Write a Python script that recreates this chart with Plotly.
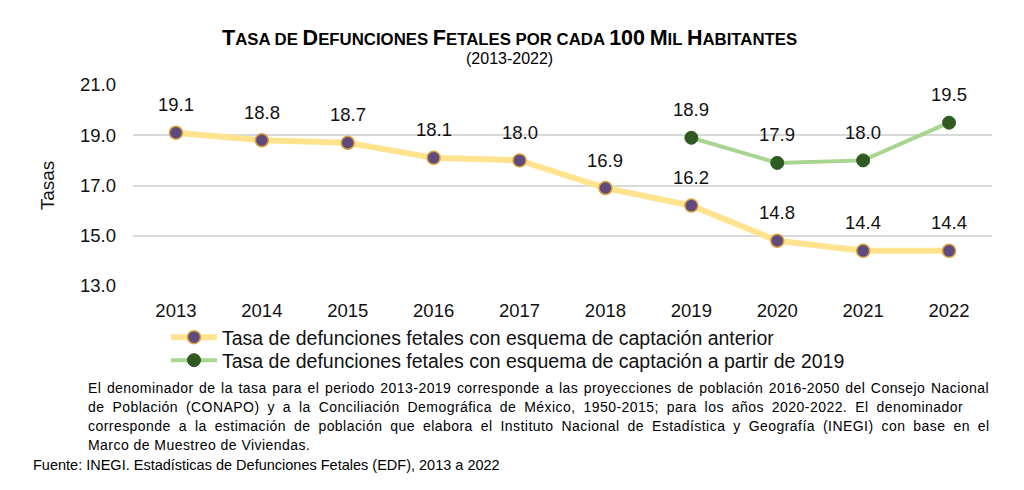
import plotly.graph_objects as go

years = ["2013", "2014", "2015", "2016", "2017", "2018", "2019", "2020", "2021", "2022"]
anterior = [19.1, 18.8, 18.7, 18.1, 18.0, 16.9, 16.2, 14.8, 14.4, 14.4]
nuevo_years = ["2019", "2020", "2021", "2022"]
nuevo = [18.9, 17.9, 18.0, 19.5]
y_ticks = [13.0, 15.0, 17.0, 19.0, 21.0]

name_a = "Tasa de defunciones fetales con esquema de captación anterior"
name_b = "Tasa de defunciones fetales con esquema de captación a partir de 2019"

footnote_lines = [
    "El denominador de la tasa para el periodo 2013-2019 corresponde a las proyecciones de población 2016-2050 del Consejo Nacional",
    "de Población (CONAPO) y a la Conciliación Demográfica de México, 1950-2015; para los años 2020-2022. El denominador",
    "corresponde a la estimación de población que elabora el Instituto Nacional de Estadística y Geografía (INEGI) con base en el",
    "Marco de Muestreo de Viviendas.",
]
source_text = "Fuente: INEGI. Estadísticas de Defunciones Fetales (EDF), 2013 a 2022"

FONT = "Liberation Sans, Arial, sans-serif"

# page has an 8px body margin: screen coords = figure coords + 8
OFF = 8
W, H = 1024 - 2 * OFF, 490 - 2 * OFF
SL, ST = 133, 85            # plot area top-left in screen px
PW, PH = 859, 201
L, T = SL - OFF, ST - OFF
R, B = W - L - PW, H - T - PH


def px(xs):
    return (xs - SL) / PW


def py(ys):
    return (ST + PH - ys) / PH


fig = go.Figure()
fig.add_trace(go.Scatter(
    x=years, y=anterior, name=name_a, mode="lines+markers", legend="legend",
    line=dict(color="#FFE38F", width=6),
    marker=dict(size=13, color="#5E4A7E", line=dict(color="#D9A13A", width=1.5)),
))
fig.add_trace(go.Scatter(
    x=nuevo_years, y=nuevo, name=name_b, mode="lines+markers", legend="legend2",
    line=dict(color="#A8D58F", width=4),
    marker=dict(size=13, color="#2F5A22", line=dict(color="#2F5A22", width=1)),
))

annotations = []
for xv, yv in zip(years, anterior):
    annotations.append(dict(x=years.index(xv), y=yv, text=f"{yv:.1f}", showarrow=False, yshift=28,
                            font=dict(family=FONT, size=18.5, color="#111")))
for xv, yv in zip(nuevo_years, nuevo):
    annotations.append(dict(x=years.index(xv), y=yv, text=f"{yv:.1f}", showarrow=False, yshift=28,
                            font=dict(family=FONT, size=18.5, color="#111")))

big = "font-size:21.5px"
title_html = (f"<b><span style='{big}'>T</span>ASA DE <span style='{big}'>D</span>EFUNCIONES "
              f"<span style='{big}'>F</span>ETALES POR CADA <span style='{big}'>100</span> "
              f"<span style='{big}'>M</span>IL <span style='{big}'>H</span>ABITANTES</b>")
annotations.append(dict(xref="paper", yref="paper", x=px(509), xanchor="center", y=py(38), yanchor="middle",
                        text=title_html, showarrow=False, font=dict(family=FONT, size=16.8, color="#000")))
annotations.append(dict(xref="paper", yref="paper", x=px(509), xanchor="center", y=py(59), yanchor="middle",
                        text="(2013-2022)", showarrow=False, font=dict(family=FONT, size=16, color="#000")))

word_sp = [1.2, 3.6, 3.6, 0]
for i, line in enumerate(footnote_lines):
    annotations.append(dict(xref="paper", yref="paper", x=px(86), xanchor="left", y=py(388 + 19 * i),
                            yanchor="middle",
                            text=f"<span style='letter-spacing:0.45px;word-spacing:{word_sp[i]}px'>{line}</span>",
                            showarrow=False, align="left",
                            font=dict(family=FONT, size=14, color="#000")))
annotations.append(dict(xref="paper", yref="paper", x=px(31), xanchor="left", y=py(465), yanchor="middle",
                        text=source_text, showarrow=False,
                        align="left", font=dict(family=FONT, size=14.5, color="#000")))

leg_common = dict(xanchor="left", yanchor="top", font=dict(family=FONT, size=19.5, color="#111"),
                  itemwidth=46, bgcolor="rgba(0,0,0,0)")

fig.update_layout(
    width=W, height=H,
    paper_bgcolor="white", plot_bgcolor="white",
    margin=dict(l=L, r=R, t=T, b=B, autoexpand=False),
    font=dict(family=FONT, size=18.5, color="#111"),
    showlegend=True,
    legend=dict(x=px(166), y=py(318), **leg_common),
    legend2=dict(x=px(166), y=py(341), **leg_common),
    annotations=annotations,
    xaxis=dict(type="category", categoryorder="array", categoryarray=years, range=[-0.5, 9.5],
               showgrid=False, showline=False, ticks="", tickfont=dict(size=18.5, color="#111"),
               ticklabelstandoff=11),
    yaxis=dict(range=[13, 21], tickvals=y_ticks, ticktext=[f"{v:.1f}" for v in y_ticks],
               showgrid=True, gridcolor="#D9D9D9", gridwidth=1.5, zeroline=False, showline=False,
               ticks="", tickfont=dict(size=18.5, color="#111"), ticklabelstandoff=16,
               title=dict(text="Tasas", font=dict(size=19, color="#111"), standoff=20)),
)

fig.write_html("out.html")
